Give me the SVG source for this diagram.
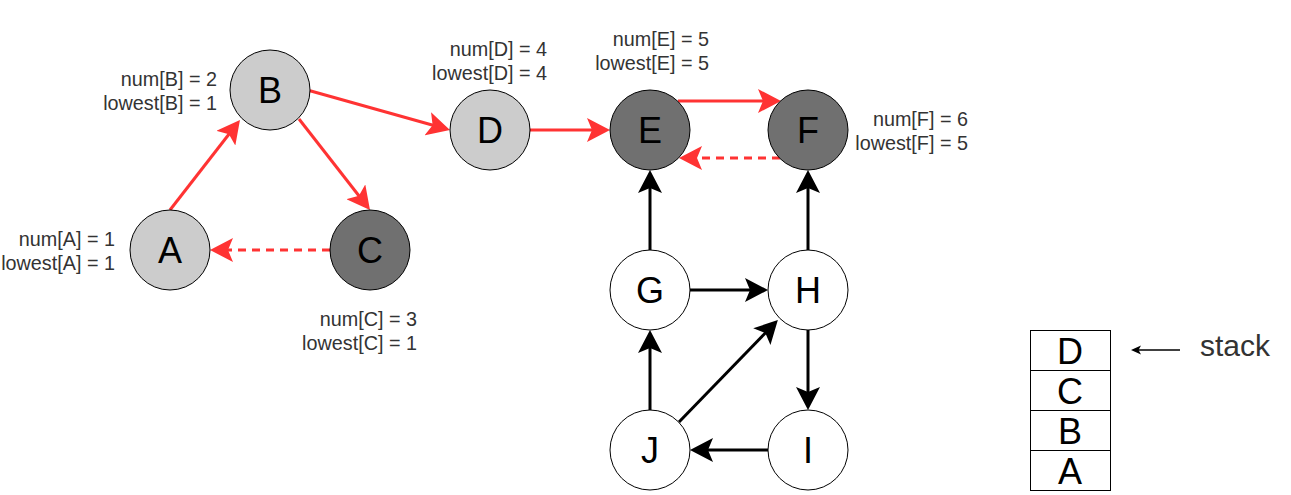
<svg xmlns="http://www.w3.org/2000/svg" width="1291" height="495" viewBox="0 0 1291 495">
<style>
.nl{fill:#cccccc;stroke:#000;stroke-width:1}
.nd{fill:#707070;stroke:#000;stroke-width:1}
.nw{fill:#ffffff;stroke:#000;stroke-width:1}
.lt{font-family:"Liberation Sans",Arial,sans-serif;font-size:36px;fill:#000;text-anchor:middle}
.lb{font-family:"Liberation Sans",Arial,sans-serif;font-size:19.8px;fill:#333333;text-anchor:end}
.er{stroke:#ff3333;stroke-width:3;fill:none;marker-end:url(#ar)}
.ed{stroke-dasharray:8 6}
.eb{stroke:#000;stroke-width:3;fill:none;marker-end:url(#ab)}
</style>
<defs>
<marker id="ar" markerUnits="userSpaceOnUse" markerWidth="24" markerHeight="24" refX="11" refY="12" orient="auto">
<path d="M0,0 L23,12 L0,24 L5,12 Z" fill="#ff3333"/>
</marker>
<marker id="ab" markerUnits="userSpaceOnUse" markerWidth="24" markerHeight="24" refX="11" refY="12" orient="auto">
<path d="M0,0 L23,12 L0,24 L5,12 Z" fill="#000"/>
</marker>
<marker id="as" markerUnits="userSpaceOnUse" markerWidth="12" markerHeight="10" refX="4" refY="4.5" orient="auto">
<path d="M0,0 L10,4.5 L0,9 L2.5,4.5 Z" fill="#000"/>
</marker>
</defs>
<g id="edges">
<path class="er" d="M170,210 L232.6,129.5"/>
<path class="er" d="M299,119 L362.6,200.5"/>
<path class="er" d="M310,90.7 L438.4,126.8"/>
<path class="er ed" d="M330,250 L222,250"/>
<path class="er" d="M530,130 L598,130"/>
<path class="er" d="M678,101 L769,101"/>
<path class="er ed" d="M780,158 L691,158"/>
<path class="eb" d="M650,250 L650,182"/>
<path class="eb" d="M808,250 L808,182"/>
<path class="eb" d="M690,290 L756,290"/>
<path class="eb" d="M808,330 L808,398"/>
<path class="eb" d="M768,450 L702,450"/>
<path class="eb" d="M650,410 L650,342"/>
<path class="eb" d="M679,422 L769.5,328.7"/>
</g>
<g id="node-A"><circle class="nl" cx="170" cy="250" r="40"/><text class="lt" x="170" y="263">A</text></g>
<g id="node-B"><circle class="nl" cx="270" cy="90" r="40"/><text class="lt" x="270" y="103">B</text></g>
<g id="node-C"><circle class="nd" cx="370" cy="250" r="40"/><text class="lt" x="370" y="263">C</text></g>
<g id="node-D"><circle class="nl" cx="490" cy="130" r="40"/><text class="lt" x="490" y="143">D</text></g>
<g id="node-E"><circle class="nd" cx="650" cy="130" r="40"/><text class="lt" x="650" y="143">E</text></g>
<g id="node-F"><circle class="nd" cx="808" cy="130" r="40"/><text class="lt" x="808" y="143">F</text></g>
<g id="node-G"><circle class="nw" cx="650" cy="290" r="40"/><text class="lt" x="650" y="303">G</text></g>
<g id="node-H"><circle class="nw" cx="808" cy="290" r="40"/><text class="lt" x="808" y="303">H</text></g>
<g id="node-I"><circle class="nw" cx="808" cy="450" r="40"/><text class="lt" x="808" y="463">I</text></g>
<g id="node-J"><circle class="nw" cx="650" cy="450" r="40"/><text class="lt" x="650" y="463">J</text></g>
<g id="labels">
<text class="lb" x="217" y="86">num[B] = 2</text>
<text class="lb" x="217" y="110">lowest[B] = 1</text>
<text class="lb" x="115" y="246">num[A] = 1</text>
<text class="lb" x="115" y="270">lowest[A] = 1</text>
<text class="lb" x="417" y="326">num[C] = 3</text>
<text class="lb" x="417" y="350">lowest[C] = 1</text>
<text class="lb" x="547" y="56">num[D] = 4</text>
<text class="lb" x="547" y="80">lowest[D] = 4</text>
<text class="lb" x="709" y="46">num[E] = 5</text>
<text class="lb" x="709" y="70">lowest[E] = 5</text>
<text class="lb" x="968" y="126">num[F] = 6</text>
<text class="lb" x="968" y="150">lowest[F] = 5</text>
</g>
<g id="stack">
<rect x="1030.5" y="330.5" width="80" height="40" fill="#fff" stroke="#000"/>
<rect x="1030.5" y="370.5" width="80" height="40" fill="#fff" stroke="#000"/>
<rect x="1030.5" y="410.5" width="80" height="40" fill="#fff" stroke="#000"/>
<rect x="1030.5" y="450.5" width="80" height="40" fill="#fff" stroke="#000"/>
<text class="lt" x="1070" y="364">D</text>
<text class="lt" x="1070" y="404">C</text>
<text class="lt" x="1070" y="444">B</text>
<text class="lt" x="1070" y="484">A</text>
</g>
<g id="stack-label">
<path d="M1180,350 L1137,350" stroke="#000" stroke-width="1.5" fill="none" marker-end="url(#as)"/>
<text x="1200" y="356" font-family="'Liberation Sans',Arial,sans-serif" font-size="30" fill="#333333">stack</text>
</g>
</svg>
